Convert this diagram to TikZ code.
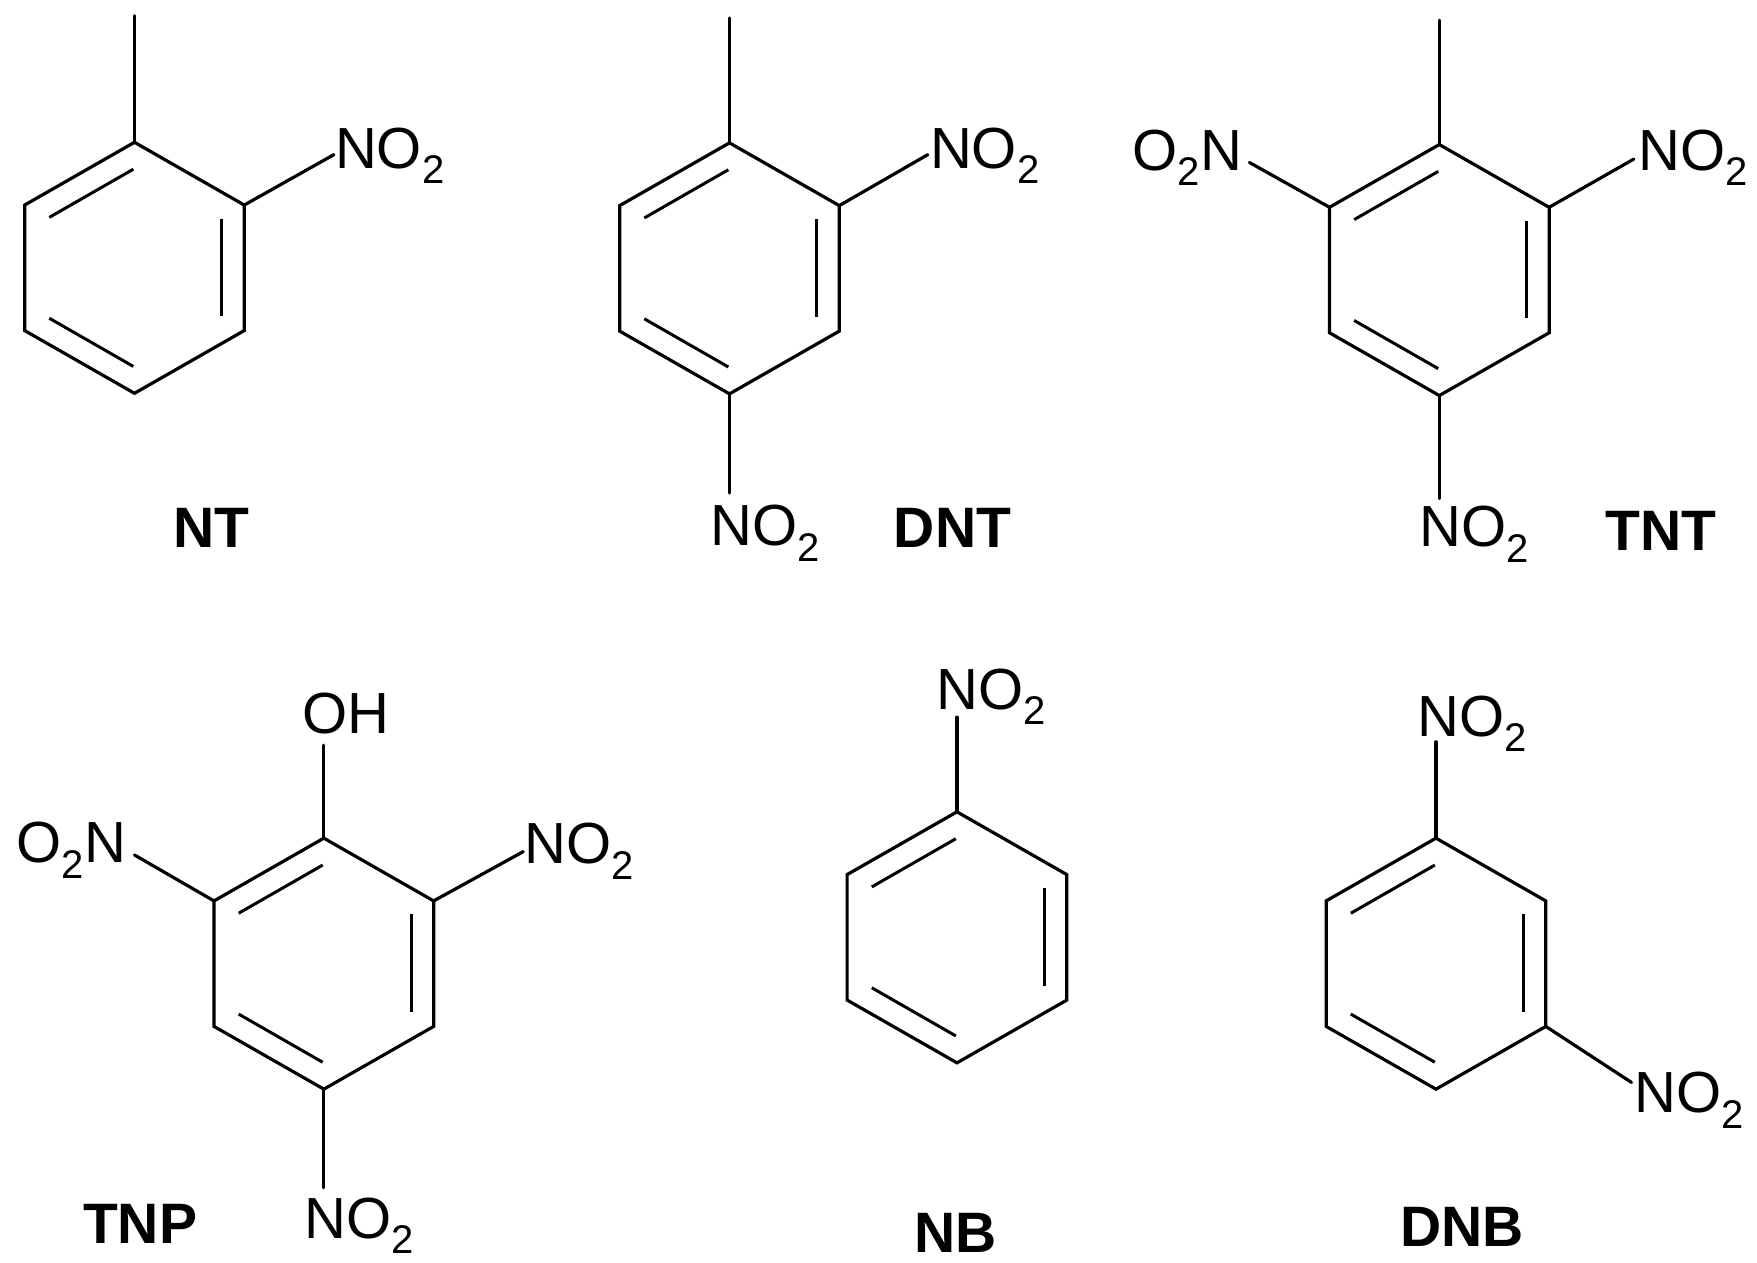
\documentclass[tikz,border=0pt]{standalone}
\usepackage{fontspec}
\setmainfont{Liberation Sans}
\usetikzlibrary{calc}
\newcommand{\subtwo}{\raisebox{-0.27em}{\fontsize{40}{40}\selectfont 2}}
\newcommand{\NOtwo}{NO\subtwo}
\newcommand{\Otwon}{O\subtwo N}
\tikzset{
  bond/.style={line width=3.2pt,line cap=round,line join=miter,black},
  innerbond/.style={line width=3pt,line cap=butt,black},
  atom/.style={anchor=base west,inner sep=0pt,outer sep=0pt,font=\fontsize{58}{60}\selectfont,black},
  molname/.style={anchor=center,inner sep=0pt,outer sep=0pt,font=\fontsize{57}{60}\selectfont\bfseries,black},
}
% ring: name, centre x, centre y
\newcommand{\hexring}[3]{%
  \coordinate (#1-a) at (#2,#3-112);
  \coordinate (#1-b) at (#2+98,#3-56);
  \coordinate (#1-c) at (#2+98,#3+56);
  \coordinate (#1-d) at (#2,#3+112);
  \coordinate (#1-e) at (#2-98,#3+56);
  \coordinate (#1-f) at (#2-98,#3-56);
  \draw[bond] (#1-a) -- (#1-b) -- (#1-c) -- (#1-d) -- (#1-e) -- (#1-f) -- cycle;
  \coordinate (#1-i1) at (#2-76,#3-45);
  \coordinate (#1-i2) at (#2-1,#3-88);
  \coordinate (#1-i3) at (#2+78,#3-44);
  \coordinate (#1-i4) at (#2+78,#3+43);
  \coordinate (#1-i5) at (#2-76,#3+45);
  \coordinate (#1-i6) at (#2-1,#3+88);
  \draw[innerbond] (#1-i1) -- (#1-i2);
  \draw[innerbond] (#1-i3) -- (#1-i4);
  \draw[innerbond] (#1-i5) -- (#1-i6);
}
\begin{document}
\begin{tikzpicture}[x=1.1205pt,y=-1.1205pt]
\useasboundingbox (0,0) rectangle (1568,1127);
% NT
\hexring{nt}{120}{239}
\coordinate (nt-me) at (120,14);
\draw[bond] (nt-a) -- (nt-me);
\node[atom] (nt-n1) at (299,150) {\NOtwo};
\coordinate (nt-e1) at (298,138);
\draw[bond] (nt-b) -- (nt-e1);
\node[molname] (nt-l) at (189,471) {NT};
% DNT
\hexring{dnt}{651}{239.5}
\coordinate (dnt-me) at (651,16);
\draw[bond] (dnt-a) -- (dnt-me);
\node[atom] (dnt-n1) at (830,150) {\NOtwo};
\coordinate (dnt-e1) at (828,138);
\draw[bond] (dnt-b) -- (dnt-e1);
\node[atom] (dnt-n2) at (634,487) {\NOtwo};
\coordinate (dnt-e2) at (651,440);
\draw[bond] (dnt-d) -- (dnt-e2);
\node[molname] (dnt-l) at (850,471) {DNT};
% TNT
\hexring{tnt}{1284.5}{241}
\coordinate (tnt-me) at (1284.5,18);
\draw[bond] (tnt-a) -- (tnt-me);
\node[atom] (tnt-n1) at (1462,152) {\NOtwo};
\coordinate (tnt-e1) at (1458,142);
\draw[bond] (tnt-b) -- (tnt-e1);
\node[atom] (tnt-n2) at (1267,488) {\NOtwo};
\coordinate (tnt-e2) at (1284.5,445);
\draw[bond] (tnt-d) -- (tnt-e2);
\node[atom] (tnt-n3) at (1011,152) {\Otwon};
\coordinate (tnt-e3) at (1115,145);
\draw[bond] (tnt-f) -- (tnt-e3);
\node[molname] (tnt-l) at (1482,474) {TNT};
% TNP
\hexring{tnp}{289}{860}
\node[atom] (tnp-oh) at (270,655) {OH};
\coordinate (tnp-e0) at (289,665);
\draw[bond] (tnp-a) -- (tnp-e0);
\node[atom] (tnp-n1) at (468,771) {\NOtwo};
\coordinate (tnp-e1) at (467,760);
\draw[bond] (tnp-b) -- (tnp-e1);
\node[atom] (tnp-n2) at (272,1105) {\NOtwo};
\coordinate (tnp-e2) at (289,1060);
\draw[bond] (tnp-d) -- (tnp-e2);
\node[atom] (tnp-n3) at (15,770) {\Otwon};
\coordinate (tnp-e3) at (120,763);
\draw[bond] (tnp-f) -- (tnp-e3);
\node[molname] (tnp-l) at (125,1092) {TNP};
% NB
\hexring{nb}{854}{836.5}
\node[atom] (nb-n1) at (836,633) {\NOtwo};
\coordinate (nb-e1) at (854,640);
\draw[bond] (nb-a) -- (nb-e1);
\node[molname] (nb-l) at (853,1100) {NB};
% DNB
\hexring{dnb}{1281.5}{860}
\node[atom] (dnb-n1) at (1265,657) {\NOtwo};
\coordinate (dnb-e1) at (1281.5,662);
\draw[bond] (dnb-a) -- (dnb-e1);
\node[atom] (dnb-n2) at (1459,993) {\NOtwo};
\coordinate (dnb-e2) at (1456,966);
\draw[bond] (dnb-c) -- (dnb-e2);
\node[molname] (dnb-l) at (1305,1095) {DNB};
\end{tikzpicture}
\end{document}
